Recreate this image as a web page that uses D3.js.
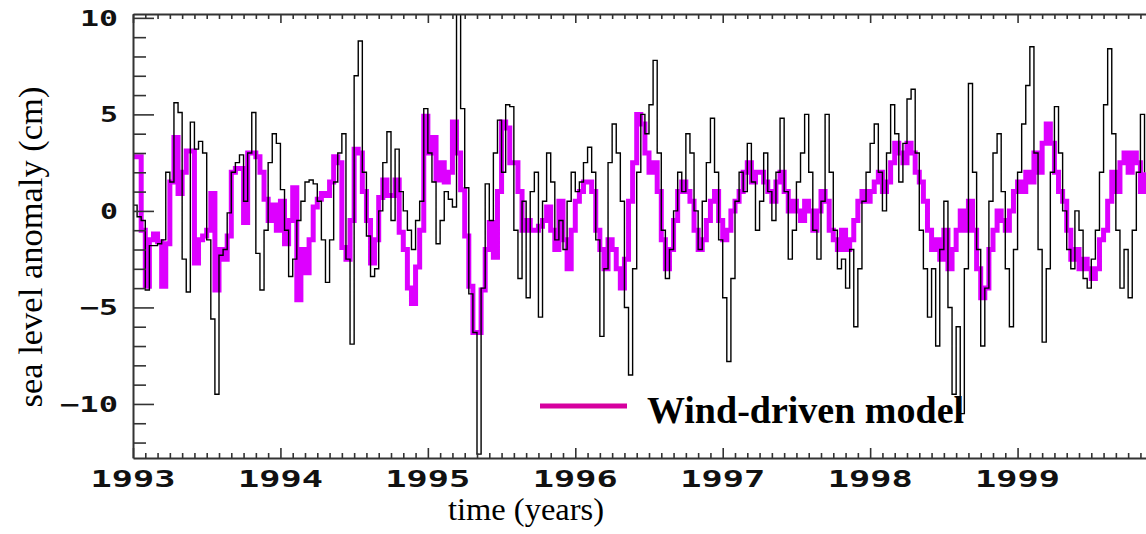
<!DOCTYPE html>
<html>
<head>
<meta charset="utf-8">
<script src="https://cdn.jsdelivr.net/npm/d3@7"></script>
<style>
  body { margin: 0; background: #fff; }
  svg { display: block; }
</style>
</head>
<body>
<svg id="chart"></svg>
<script>
// samples every 1/36 year starting 1993.0
const startYear = 1993;
const stepYears = 1 / 36;

// observed sea level anomaly (cm), black
const observed = [
  0.3, -0.3, -0.5, -4.1, -1.8, -1.8, -1.7, -1.5, 2.0, 1.5,
  5.6, 5.1, -2.5, -4.2, 4.6, 3.2, 3.6, 3.0, -1.5, -5.6,
  -9.5, -2.3, -2.0, -0.1, 2.0, 2.5, 2.9, 0.5, 3.0, 5.1,
  -2.2, -4.1, -1.0, 2.5, 4.0, 3.5, 1.1, -1.0, -3.4, -2.5,
  -0.5, 0.5, 1.5, 1.6, 1.4, 0.5, -1.5, -3.7, -1.5, 1.5,
  3.0, 4.0, -2.5, -6.9, 7.0, 8.8, 2.0, -1.3, -3.4, -3.0,
  0.0, 2.5, 4.1, -0.5, 3.2, 1.0, 0.0, -1.0, -2.0, -0.5,
  0.5, 5.3, 3.0, 1.5, -1.7, -0.5, 1.0, 0.6, 0.2, 10.2,
  5.3, 1.2, -4.3, -6.3, -12.6, -4.0, 1.4, -0.5, 3.0, 4.7,
  2.0, 5.5, 5.4, -1.0, -3.5, 0.5, -4.5, 1.0, 2.0, -5.5,
  0.5, 3.0, 1.5, -1.5, -0.5, -2.0, 0.5, 2.0, 1.0, 1.5,
  2.5, 3.3, 2.0, -1.5, -6.5, -3.0, 2.5, 4.5, 3.0, 0.5,
  -5.0, -8.5, -3.0, 2.0, 5.0, 4.0, 5.5, 7.8, 3.0, -1.0,
  -3.5, -2.0, 0.0, 2.0, 1.0, 4.0, 3.0, 0.0, -2.0, 0.5,
  2.5, 4.8, 2.0, -1.5, -4.5, -7.8, -3.5, 0.5, 2.0, 1.0,
  3.5, 1.5, -1.0, 0.5, 3.0, 1.0, -0.5, 2.0, 4.8, 1.0,
  -2.5, -1.0, 1.5, 3.0, 5.0, 2.0, -1.0, -2.5, 0.5, 5.0,
  2.0, -1.0, -3.0, -2.5, -4.0, -2.0, -6.0, -3.0, 0.5, 2.0,
  3.5, 4.5, 2.0, 0.0, 3.0, 5.5, 4.0, 1.5, 3.5, 5.8,
  6.3, 3.0, -1.0, -3.0, -5.5, -3.0, -7.0, -2.0, 0.5, -5.0,
  -9.5, -6.0, -10.5, -3.0, 6.6, 2.0, -2.0, -7.0, -4.0, 0.5,
  3.0, 4.0, 1.0, -3.0, -6.0, -2.0, 2.0, 4.5, 6.5, 8.5,
  3.0, -2.0, -6.8, -3.0, 2.0, 5.4, 3.0, 0.0, -2.0, -3.0,
  0.0, -1.0, -3.5, -4.0, -2.5, -1.0, 2.0, 5.5, 8.4, 4.0,
  -1.0, -4.0, -2.0, -4.5, -1.0, 2.0, 5.0, 2.0
];

// wind-driven model (cm), magenta
const model = [
  2.8, 2.8, -1.0, -3.9, -1.5, -1.2, -1.6, -3.9, -1.7, 1.5,
  3.8, 0.9, 2.0, 3.1, 3.1, -2.7, -1.5, -1.3, -1.0, 0.9,
  -4.1, -2.0, -2.5, -1.3, 2.0, 2.2, 2.2, -0.6, 3.0, 3.0,
  2.8, 2.0, 0.6, -0.5, 0.3, -1.0, 0.5, -1.7, -0.5, 1.2,
  -4.6, -2.0, -3.2, -1.5, 0.2, 0.6, 0.9, 0.8, 1.5, 2.8,
  2.5, -1.9, -2.5, -0.5, 3.2, 3.0, 1.0, -0.5, -2.7, -1.5,
  0.7, 1.6, 0.8, 0.8, 1.6, -1.1, -2.0, -4.0, -4.8, -2.9,
  -1.0, 4.9, 3.0, 3.8, 1.6, 2.5, 1.5, 2.0, 4.6, 3.0,
  1.1, -1.3, -3.9, -6.3, -6.3, -4.1, -2.0, -0.6, -2.4, 1.0,
  4.6, 4.3, 2.5, 2.5, 1.0, -1.0, -0.5, -1.0, -1.0, -0.8,
  -0.5, 0.2, -1.0, -2.0, 0.5, -1.5, -3.0, -1.0, 0.5, 1.0,
  1.5, 1.5, 1.0, -1.0, -2.0, -3.0, -1.5, -2.0, -3.0, -4.0,
  -2.5, 0.5, 2.5, 5.0, 4.5, 3.0, 2.0, 2.5, 1.0, -1.5,
  -3.0, -2.0, -0.5, 1.0, 1.5, 1.0, 0.5, -1.0, -2.0, -1.5,
  -0.5, 0.5, 1.0, -0.5, -1.5, -1.0, 0.0, 0.5, 1.0, 2.0,
  2.5, 1.5, 2.0, 2.0, 1.5, 1.0, 0.5, 1.5, 2.0, 1.0,
  0.0, 0.5, 0.0, -0.5, 0.5, 0.0, -1.0, 0.0, 1.0, 0.5,
  -1.0, -1.5, -2.0, -1.0, -2.0, -1.5, -0.5, 0.5, 1.0, 0.5,
  1.0, 1.5, 2.0, 1.0, 1.5, 2.5, 3.5, 3.0, 2.5, 3.5,
  3.0, 2.0, 1.5, 0.5, -1.0, -2.0, -1.5, -2.5, -1.0, -3.0,
  -2.0, -1.0, 0.0, -1.0, 0.5, -1.0, -3.0, -4.5, -4.0, -2.0,
  -1.0, 0.0, -0.5, -1.0, 0.0, 1.0, 1.5, 1.0, 2.0, 1.5,
  3.0, 2.0, 3.5, 4.5, 3.5, 2.0, 1.0, 0.5, -1.0, -2.5,
  -2.0, -3.0, -2.5, -3.0, -3.5, -3.0, -1.5, -1.0, 0.5, 2.0,
  1.0, 2.5, 3.0, 2.0, 3.0, 2.5, 1.0, 2.0
];

const yearTicks = [1993, 1994, 1995, 1996, 1997, 1998, 1999, 2000];
const valueTicks = [-10, -5, 0, 5, 10];
const legendLabel = "Wind-driven model";

const W = 1146, H = 534;
const svg = d3.select("#chart").attr("width", W).attr("height", H);

const plotLeft = 133, plotTop = 14, plotBottom = 458;
const x = d3.scaleLinear().domain([1993, 2000]).range([plotLeft, 1165]);
const y = d3.scaleLinear().domain([-12.8, 10.2]).range([plotBottom, plotTop]);

const toPoints = arr => arr.map((v, i) => [startYear + i * stepYears, v]);

svg.append("clipPath").attr("id", "plot-clip")
  .append("rect")
  .attr("x", plotLeft).attr("y", plotTop)
  .attr("width", W - plotLeft).attr("height", plotBottom - plotTop);

const line = d3.line()
  .x(d => x(d[0]))
  .y(d => y(d[1]))
  .curve(d3.curveStepAfter);

const plot = svg.append("g").attr("clip-path", "url(#plot-clip)");

plot.append("path")
  .datum(toPoints(model))
  .attr("fill", "none")
  .attr("stroke", "#dd00ff")
  .attr("stroke-width", 5)
  .attr("d", line);

plot.append("path")
  .datum(toPoints(observed))
  .attr("fill", "none")
  .attr("stroke", "#000")
  .attr("stroke-width", 1.4)
  .attr("d", line);

// ticks (all pointing into the plot)
const months = d3.range(1993, 2000, 1 / 12).filter(m => Math.abs(m - Math.round(m)) > 1e-6);
const minorVals = d3.range(-12, 11).filter(v => v % 5 !== 0);

function styleAxis(g) {
  g.selectAll("path.domain").attr("stroke", "#333").attr("stroke-width", 2);
  g.selectAll(".tick line").attr("stroke", "#333").attr("stroke-width", 1.6);
}

// left
svg.append("g").attr("transform", `translate(${plotLeft},0)`)
  .call(d3.axisRight(y).tickValues(valueTicks).tickSize(21).tickSizeOuter(0).tickFormat(""))
  .call(styleAxis);
svg.append("g").attr("transform", `translate(${plotLeft},0)`)
  .call(d3.axisRight(y).tickValues(minorVals).tickSize(13).tickFormat(""))
  .call(g => g.select(".domain").remove())
  .call(styleAxis);

// bottom
svg.append("g").attr("transform", `translate(0,${plotBottom})`)
  .call(d3.axisTop(x).tickValues(yearTicks).tickSize(10).tickSizeOuter(0).tickFormat(""))
  .call(styleAxis);
svg.append("g").attr("transform", `translate(0,${plotBottom})`)
  .call(d3.axisTop(x).tickValues(months).tickSize(5).tickFormat(""))
  .call(g => g.select(".domain").remove())
  .call(styleAxis);

// top
svg.append("g").attr("transform", `translate(0,${plotTop})`)
  .call(d3.axisBottom(x).tickValues(yearTicks).tickSize(9).tickSizeOuter(0).tickFormat(""))
  .call(styleAxis);
svg.append("g").attr("transform", `translate(0,${plotTop})`)
  .call(d3.axisBottom(x).tickValues(months).tickSize(5).tickFormat(""))
  .call(g => g.select(".domain").remove())
  .call(styleAxis);

// tick labels
const tickFont = "'DejaVu Sans Mono', 'Liberation Mono', monospace";
svg.append("g").selectAll("text")
  .data(valueTicks)
  .join("text")
  .attr("x", 118)
  .attr("y", d => y(d) + 8)
  .attr("text-anchor", "end")
  .attr("font-family", tickFont)
  .attr("font-weight", "bold")
  .attr("font-size", 21)
  .attr("fill", "#111")
  .attr("textLength", d => String(Math.abs(d)).length * 20 - 2 + (d < 0 ? 20 : 0))
  .attr("lengthAdjust", "spacingAndGlyphs")
  .text(d => (d < 0 ? "\u2212" : "") + Math.abs(d));

svg.append("g").selectAll("text")
  .data(yearTicks.filter(t => x(t) < W))
  .join("text")
  .attr("x", d => x(d))
  .attr("y", 487)
  .attr("text-anchor", "middle")
  .attr("font-family", tickFont)
  .attr("font-weight", "bold")
  .attr("font-size", 23)
  .attr("fill", "#111")
  .attr("textLength", 85)
  .attr("lengthAdjust", "spacingAndGlyphs")
  .text(d => d);

// axis titles
svg.append("text")
  .attr("transform", "translate(42,247) rotate(-90)")
  .attr("text-anchor", "middle")
  .attr("font-family", "'Liberation Serif', 'Times New Roman', serif")
  .attr("font-size", 34.5)
  .text("sea level anomaly (cm)");

svg.append("text")
  .attr("x", 526)
  .attr("y", 520)
  .attr("text-anchor", "middle")
  .attr("font-family", "'Liberation Serif', 'Times New Roman', serif")
  .attr("font-size", 32.5)
  .text("time (years)");

// legend
svg.append("line")
  .attr("x1", 540).attr("x2", 627)
  .attr("y1", 406).attr("y2", 406)
  .attr("stroke", "#d6009f")
  .attr("stroke-width", 5);

svg.append("text")
  .attr("x", 647)
  .attr("y", 423)
  .attr("font-family", "'Liberation Serif', 'Times New Roman', serif")
  .attr("font-weight", "bold")
  .attr("font-size", 38)
  .text(legendLabel);
</script>
</body>
</html>
